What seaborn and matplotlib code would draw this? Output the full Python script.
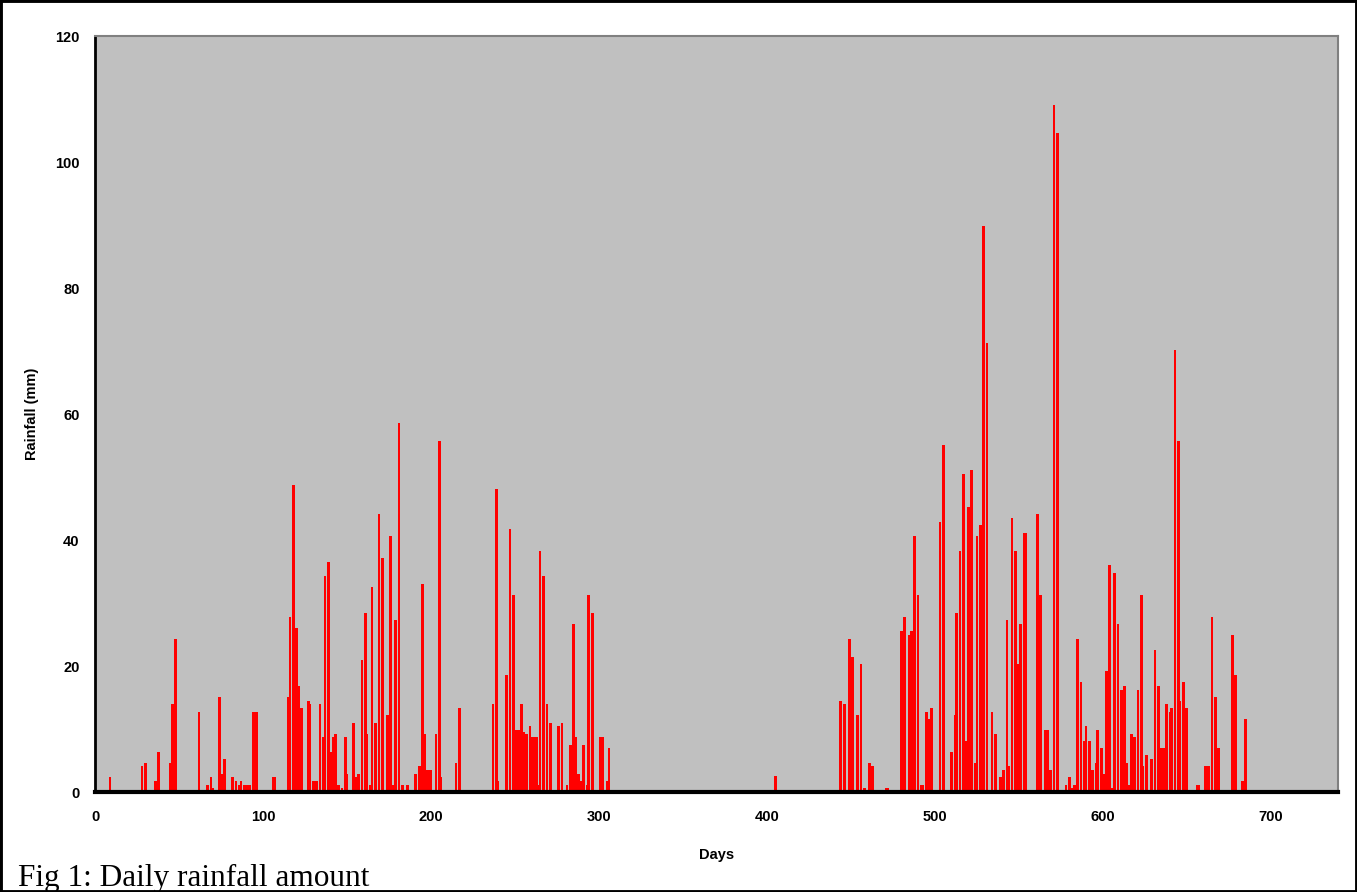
import matplotlib
matplotlib.use("Agg")
import matplotlib.pyplot as plt
import seaborn as sns
import pandas as pd
from matplotlib.patches import Rectangle

days = [9, 28, 30, 36, 38, 45, 46, 48, 62, 67, 69, 70, 74, 76, 77, 82, 84, 86, 87,
        89, 90, 91, 92, 94, 95, 96, 106, 107, 115, 116, 118, 120, 121, 123, 127, 128,
        130, 131, 132, 134, 136, 137, 139, 140, 142, 143, 145, 147, 149, 150, 154, 155,
        157, 159, 161, 162, 164, 165, 167, 169, 171, 174, 176, 177, 179, 181, 183, 186,
        191, 193, 195, 196, 198, 199, 200, 203, 205, 206, 215, 217, 237, 239, 240, 245,
        247, 249, 250, 251, 252, 253, 254, 255, 256, 257, 259, 260, 261, 262, 263, 264,
        265, 267, 269, 271, 276, 278, 281, 283, 285, 286, 288, 289, 291, 293, 294, 296,
        301, 302, 305, 306, 405, 444, 446, 449, 451, 454, 456, 458, 461, 463, 471, 472,
        480, 482, 485, 486, 488, 490, 492, 493, 495, 497, 498, 503, 505, 510, 512, 513,
        515, 517, 519, 520, 522, 524, 525, 527, 529, 531, 534, 536, 539, 541, 543, 544,
        546, 548, 549, 551, 553, 554, 561, 563, 566, 567, 569, 571, 573, 578, 580, 582,
        583, 585, 587, 589, 590, 592, 594, 596, 597, 599, 601, 602, 604, 605, 607, 609,
        611, 613, 614, 616, 617, 619, 621, 623, 624, 626, 629, 631, 633, 635, 636, 638,
        640, 641, 643, 645, 646, 648, 650, 656, 657, 661, 662, 663, 665, 667, 669, 677,
        679, 683, 685]

rainfall = [2.4, 4.1, 4.6, 1.7, 6.3, 4.6, 14.0, 24.3, 12.7, 1.1, 2.4, 0.6, 15.1, 2.9, 5.2,
            2.4, 1.7, 1.1, 1.7, 1.1, 1.1, 1.1, 1.1, 12.7, 12.7, 12.7, 2.4, 2.4, 15.1, 27.8,
            48.7, 26.0, 16.8, 13.3, 14.4, 14.0, 1.7, 1.7, 1.7, 14.0, 8.7, 34.3, 36.5, 6.3,
            8.7, 9.2, 1.1, 0.6, 8.7, 2.9, 11.0, 2.4, 2.9, 21.0, 28.4, 9.2, 1.1, 32.5, 11.0,
            44.1, 37.1, 12.2, 40.6, 1.1, 27.3, 58.6, 1.1, 1.1, 2.9, 4.1, 33.0, 9.2, 3.5, 3.5,
            3.5, 9.2, 55.7, 2.4, 4.6, 13.3, 14.0, 48.1, 1.7, 18.6, 41.7, 31.3, 9.8, 9.8, 9.8,
            9.8, 14.0, 9.5, 5.0, 9.2, 10.5, 8.7, 8.7, 8.7, 8.7, 1.1, 38.3, 34.3, 14.0, 11.0,
            10.5, 11.0, 1.1, 7.5, 26.7, 8.7, 2.9, 1.7, 7.5, 1.1, 31.3, 28.4, 8.7, 8.7, 1.7,
            7.0, 2.6, 14.4, 14.0, 24.3, 21.4, 12.2, 20.3, 0.6, 4.6, 4.1, 0.6, 0.6, 25.6,
            27.8, 24.9, 25.6, 40.6, 31.3, 1.1, 1.1, 12.7, 11.6, 13.3, 42.9, 55.1, 6.3, 12.2,
            28.4, 38.3, 50.5, 8.1, 45.2, 51.1, 4.6, 40.6, 42.4, 89.8, 71.3, 12.7, 9.2, 2.4,
            3.5, 27.3, 4.1, 43.5, 38.3, 20.3, 26.7, 41.1, 41.1, 44.1, 31.3, 9.8, 9.8, 3.5,
            109.0, 104.6, 1.1, 2.4, 0.6, 1.1, 24.3, 17.5, 8.1, 10.5, 8.1, 3.5, 4.6, 9.8,
            7.0, 2.9, 19.2, 36.0, 0.6, 34.8, 26.7, 16.2, 16.8, 4.6, 1.1, 9.2, 8.7, 16.2,
            31.3, 4.1, 5.8, 5.2, 22.5, 16.8, 7.0, 7.0, 14.0, 12.7, 13.3, 70.2, 55.7, 14.4,
            17.5, 13.3, 1.1, 1.1, 4.1, 4.1, 4.1, 27.8, 15.1, 7.0, 24.9, 18.6, 1.7, 11.6]

x_ticks = [0, 100, 200, 300, 400, 500, 600, 700]
y_ticks = [0, 20, 40, 60, 80, 100, 120]

df = pd.DataFrame({"Days": days, "Rainfall": rainfall})

sns.set_style("white")
plt.rcParams["font.family"] = ["Liberation Sans", "DejaVu Sans"]
plt.rcParams["text.color"] = "black"
plt.rcParams["axes.labelcolor"] = "black"

fig = plt.figure(figsize=(13.57, 8.92), dpi=100)
ax = fig.add_axes([95 / 1357, 1 - 792 / 892, (1338 - 95) / 1357, (792 - 36) / 892])
ax.set_facecolor("#C0C0C0")

sns.barplot(data=df, x="Days", y="Rainfall", native_scale=True, color="#FF0000",
            saturation=1, width=1.6, linewidth=0, errorbar=None, ax=ax)

ax.set_xlim(0, 740)
ax.set_ylim(0, 120)
ax.set_xticks(x_ticks)
ax.set_yticks(y_ticks)
ax.set_xticklabels([str(t) for t in x_ticks], fontsize=10.5, fontweight="bold")
ax.set_yticklabels([str(t) for t in y_ticks], fontsize=10.5, fontweight="bold")
ax.tick_params(axis="x", direction="out", length=4, width=1.5, pad=9,
               colors="black", labelcolor="black")
ax.tick_params(axis="y", direction="out", length=4, width=1.5, pad=7,
               colors="black", labelcolor="black")
ax.grid(False)

for s in ["top", "right"]:
    ax.spines[s].set_color("#808080")
    ax.spines[s].set_linewidth(1.5)
ax.spines["left"].set_color("black")
ax.spines["left"].set_linewidth(2)
ax.spines["bottom"].set_color("black")
ax.spines["bottom"].set_linewidth(3)

ax.set_xlabel("Days", fontsize=10.5, fontweight="bold", color="black")
ax.set_ylabel("Rainfall (mm)", fontsize=10.5, fontweight="bold", color="black")
ax.xaxis.set_label_coords(0.5, -(855 - 792) / 756, transform=ax.transAxes)
ax.yaxis.set_label_coords(-(95 - 32) / 1243, 0.5, transform=ax.transAxes)
ax.xaxis.label.set_va("center")
ax.yaxis.label.set_va("center")

fig.text(18 / 1357, 1 - 886 / 892, "Fig 1: Daily rainfall amount", color="black",
         fontsize=22.5, family=["Liberation Serif", "DejaVu Serif"], ha="left", va="baseline")

fig.patches.append(Rectangle((0, 0), 1, 1, transform=fig.transFigure, fill=False,
                             edgecolor="black", linewidth=3.5, zorder=10))

fig.savefig("out.png", dpi=100)
